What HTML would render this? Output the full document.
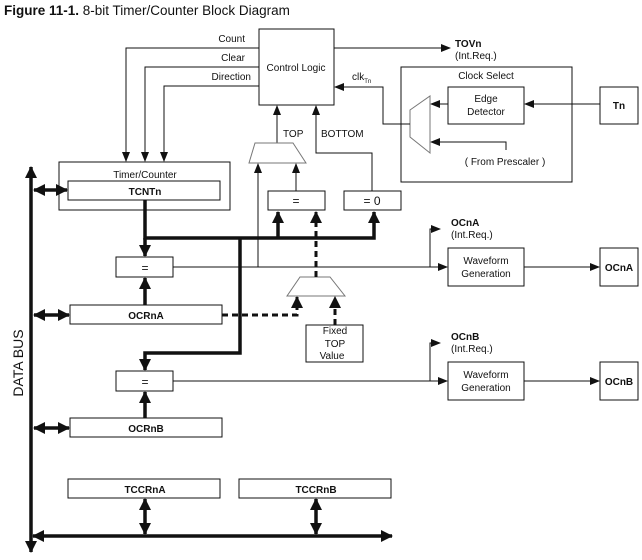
<!DOCTYPE html>
<html><head><meta charset="utf-8"><style>
body{margin:0;background:#fff;width:642px;height:560px;overflow:hidden}
svg{display:block}
text{font-family:"Liberation Sans",Arial,sans-serif;fill:#111}
</style></head><body>
<svg width="642" height="560" viewBox="0 0 642 560" xmlns="http://www.w3.org/2000/svg">
<defs>
<marker id="a" markerWidth="10" markerHeight="8" refX="9" refY="4" orient="auto" markerUnits="userSpaceOnUse"><path d="M0,0 L10,4 L0,8 z" fill="#111"/></marker>
<marker id="b" markerWidth="12" markerHeight="12" refX="11" refY="6" orient="auto" markerUnits="userSpaceOnUse"><path d="M0,0 L12,6 L0,12 z" fill="#111"/></marker>
<marker id="bs" markerWidth="12" markerHeight="12" refX="1" refY="6" orient="auto" markerUnits="userSpaceOnUse"><path d="M12,0 L0,6 L12,12 z" fill="#111"/></marker>
</defs>
<text x="4" y="15" font-size="13.5"><tspan font-weight="bold">Figure 11-1.</tspan>   8-bit Timer/Counter Block Diagram</text>

<g fill="none" stroke="#111" stroke-width="1">
<!-- control logic -->
<rect x="259" y="29" width="75" height="76"/>
<polyline points="259,48 126,48 126,161" marker-end="url(#a)"/>
<polyline points="259,67 145,67 145,161" marker-end="url(#a)"/>
<polyline points="259,86 164,86 164,161" marker-end="url(#a)"/>
<polyline points="334,48 450,48" marker-end="url(#a)"/>
<!-- clock select -->
<rect x="401" y="67" width="171" height="115"/>
<rect x="448" y="87" width="76" height="37"/>
<rect x="600" y="87" width="38" height="37"/>
<line x1="600" y1="104" x2="525" y2="104" marker-end="url(#a)"/>
<line x1="448" y1="104" x2="431" y2="104" marker-end="url(#a)"/>
<polyline points="506,150 506,142 431,142" marker-end="url(#a)"/>
<polygon points="410,110 430,96 430,153 410,137" stroke="#777"/>
<polyline points="410,124 383,124 383,87 335,87" marker-end="url(#a)"/>
<!-- TOP / BOTTOM -->
<line x1="277" y1="143" x2="277" y2="106" marker-end="url(#a)"/>
<polyline points="372,191 372,153 316,153 316,106" marker-end="url(#a)"/>
<polygon points="255,143 293,143 306,163 249,163" stroke="#777"/>
<line x1="258" y1="267" x2="258" y2="164" marker-end="url(#a)"/>
<line x1="296" y1="191" x2="296" y2="164" marker-end="url(#a)"/>
<rect x="268" y="191" width="57" height="19"/>
<rect x="344" y="191" width="57" height="19"/>
<!-- timer counter -->
<rect x="59" y="162" width="171" height="48"/>
<rect x="68" y="181" width="152" height="19"/>
<!-- compare A -->
<rect x="116" y="257" width="57" height="20"/>
<rect x="70" y="305" width="152" height="19"/>
<line x1="173" y1="267" x2="447" y2="267" marker-end="url(#a)"/>
<polyline points="430,267 430,229 440,229" marker-end="url(#a)"/>
<rect x="448" y="248" width="76" height="38"/>
<line x1="524" y1="267" x2="599" y2="267" marker-end="url(#a)"/>
<rect x="600" y="248" width="38" height="38"/>
<polygon points="300,277 330,277 345,296 287,296" stroke="#777"/>
<rect x="306" y="325" width="57" height="37"/>
<!-- compare B -->
<rect x="116" y="371" width="57" height="20"/>
<rect x="70" y="418" width="152" height="19"/>
<line x1="173" y1="381" x2="447" y2="381" marker-end="url(#a)"/>
<polyline points="430,381 430,343 440,343" marker-end="url(#a)"/>
<rect x="448" y="362" width="76" height="38"/>
<line x1="524" y1="381" x2="599" y2="381" marker-end="url(#a)"/>
<rect x="600" y="362" width="38" height="38"/>
<rect x="68" y="479" width="152" height="19"/>
<rect x="239" y="479" width="152" height="19"/>
</g>

<g fill="none" stroke="#111" stroke-width="3.5">
<line x1="31" y1="167" x2="31" y2="552" marker-start="url(#bs)" marker-end="url(#b)"/>
<line x1="33" y1="536" x2="392" y2="536" marker-start="url(#bs)" marker-end="url(#b)"/>
<line x1="34" y1="190" x2="67" y2="190" marker-start="url(#bs)" marker-end="url(#b)"/>
<line x1="34" y1="315" x2="69" y2="315" marker-start="url(#bs)" marker-end="url(#b)"/>
<line x1="34" y1="428" x2="69" y2="428" marker-start="url(#bs)" marker-end="url(#b)"/>
<line x1="145" y1="499" x2="145" y2="534" marker-start="url(#bs)" marker-end="url(#b)"/>
<line x1="316" y1="499" x2="316" y2="534" marker-start="url(#bs)" marker-end="url(#b)"/>
<polyline points="145,200 145,238 374,238 374,212" marker-end="url(#b)"/>
<line x1="145" y1="238" x2="145" y2="256" marker-end="url(#b)"/>
<line x1="278" y1="238" x2="278" y2="212" marker-end="url(#b)"/>
<polyline points="240,238 240,353 145,353 145,370" marker-end="url(#b)"/>
<line x1="145" y1="305" x2="145" y2="278" marker-end="url(#b)"/>
<line x1="145" y1="418" x2="145" y2="392" marker-end="url(#b)"/>
</g>
<g fill="none" stroke="#111" stroke-width="3" stroke-dasharray="6,4">
<line x1="316" y1="277" x2="316" y2="212" marker-end="url(#b)"/>
<polyline points="222,315 297,315 297,297" marker-end="url(#b)"/>
<line x1="335" y1="325" x2="335" y2="297" marker-end="url(#b)"/>
</g>

<g font-size="10">
<text x="245" y="42" text-anchor="end">Count</text>
<text x="245" y="61" text-anchor="end">Clear</text>
<text x="251" y="80" text-anchor="end">Direction</text>
<text x="296" y="71" text-anchor="middle">Control Logic</text>
<text x="352" y="80">clk<tspan font-size="6" dy="3">Tn</tspan></text>
<text x="455" y="47" font-weight="bold">TOVn</text>
<text x="455" y="59">(Int.Req.)</text>
<text x="486" y="79" text-anchor="middle">Clock Select</text>
<text x="486" y="102" text-anchor="middle">Edge</text>
<text x="486" y="115" text-anchor="middle">Detector</text>
<text x="619" y="109" text-anchor="middle" font-weight="bold">Tn</text>
<text x="505" y="165" text-anchor="middle">( From Prescaler )</text>
<text x="283" y="137">TOP</text>
<text x="321" y="137">BOTTOM</text>
<text x="296" y="205" text-anchor="middle" font-size="12">=</text>
<text x="372" y="205" text-anchor="middle" font-size="12">= 0</text>
<text x="145" y="178" text-anchor="middle">Timer/Counter</text>
<text x="145" y="195" text-anchor="middle" font-weight="bold">TCNTn</text>
<text x="145" y="272" text-anchor="middle" font-size="12">=</text>
<text x="146" y="319" text-anchor="middle" font-weight="bold">OCRnA</text>
<text x="335" y="334" text-anchor="middle">Fixed</text>
<text x="335" y="347" text-anchor="middle">TOP</text>
<text x="332" y="359" text-anchor="middle">Value</text>
<text x="451" y="226" font-weight="bold">OCnA</text>
<text x="451" y="238">(Int.Req.)</text>
<text x="486" y="264" text-anchor="middle">Waveform</text>
<text x="486" y="277" text-anchor="middle">Generation</text>
<text x="619" y="271" text-anchor="middle" font-weight="bold">OCnA</text>
<text x="145" y="386" text-anchor="middle" font-size="12">=</text>
<text x="146" y="432" text-anchor="middle" font-weight="bold">OCRnB</text>
<text x="451" y="340" font-weight="bold">OCnB</text>
<text x="451" y="352">(Int.Req.)</text>
<text x="486" y="378" text-anchor="middle">Waveform</text>
<text x="486" y="391" text-anchor="middle">Generation</text>
<text x="619" y="385" text-anchor="middle" font-weight="bold">OCnB</text>
<text x="145" y="493" text-anchor="middle" font-weight="bold">TCCRnA</text>
<text x="316" y="493" text-anchor="middle" font-weight="bold">TCCRnB</text>
</g>
<text x="0" y="0" font-size="14" text-anchor="middle" transform="translate(23,363) rotate(-90)">DATA BUS</text>
</svg>
</body></html>
